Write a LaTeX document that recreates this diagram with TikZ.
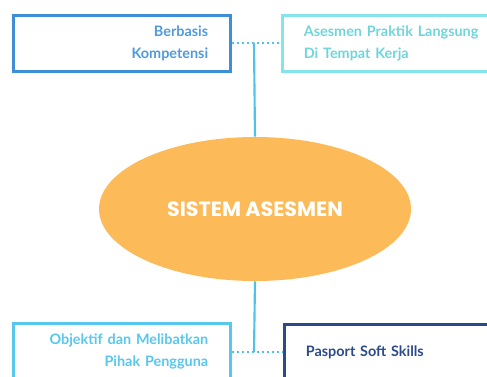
\documentclass[tikz,border=0pt]{standalone}
\usepackage{fontspec}
\setmainfont{Lato}
\newfontfamily\titlefont{Poppins}
\usetikzlibrary{shapes.geometric}

\definecolor{kompblue}{HTML}{3D8FD8}
\definecolor{praktikcyan}{HTML}{84E4EA}
\definecolor{objsky}{HTML}{57C7EE}
\definecolor{pasnavy}{HTML}{2A4A88}
\definecolor{linkblue}{HTML}{4EC3EA}
\definecolor{coreorange}{HTML}{FCBA58}

\tikzset{
    itembox/.style={draw=#1, line width=2.25pt, rectangle, inner sep=0pt,
        minimum width=162.75pt, minimum height=42pt, text width=130pt,
        font=\fontsize{10.8}{16.5}\selectfont\bfseries},
    link/.style={draw=linkblue, line width=1.6pt},
    dotlink/.style={link, dash pattern=on 1.7pt off 2.1pt}
}

\begin{document}
\begin{tikzpicture}[x=0.75pt, y=-0.75pt]
            \useasboundingbox (0,0) rectangle (487,376);
            \clip (0,0) rectangle (487,376);

            % the four boxes: name / x / y / colour / text colour / alignment / text
            \foreach \name/\x/\y/\col/\tcol/\side/\txt in {
                    tl/121.5/43/kompblue/kompblue!90/right/{Berbasis\\Kompetensi},
                    tr/390.5/43/praktikcyan/praktikcyan!85!teal/left/{\mbox{Asesmen Praktik Langsung}\\Di Tempat Kerja},
                    bl/121.5/351/objsky/objsky/right/{Objektif dan Melibatkan\\Pihak Pengguna},
                    br/392.5/352/pasnavy/pasnavy/left/{Pasport Soft Skills}}{
                    \node[itembox=\col, text=\tcol, align=\side] (\name) at (\x,\y) {\txt};
                }

            \node[ellipse, fill=coreorange, inner sep=0pt, minimum width=234pt,
                minimum height=108pt, text=white,
                font=\titlefont\fontsize{15.5}{18}\selectfont\bfseries] (core) at (255,209) {SISTEM ASESMEN};

            % joints on the dotted links
            \coordinate (topj) at (254,43);
            \coordinate (botj) at (254,352);

            \draw[dotlink] (tl.east) -- (tr.west);
            \draw[dotlink] (bl.east |- botj) -- (br.west);
            \draw[link] (core.north) -- (topj);
            \draw[link] (core.south) -- (botj);
        \end{tikzpicture}
\end{document}
